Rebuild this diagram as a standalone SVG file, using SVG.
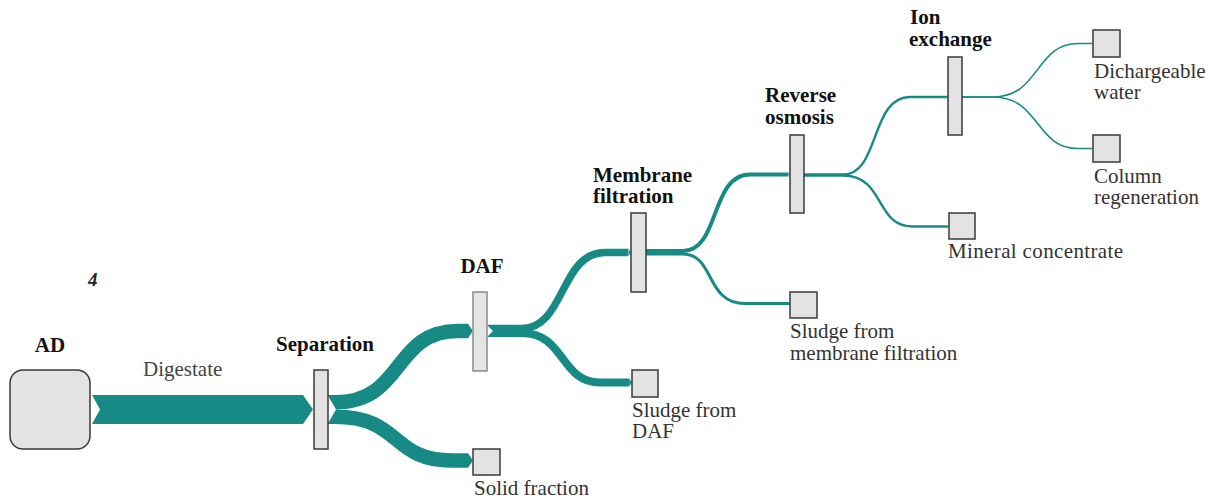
<svg xmlns="http://www.w3.org/2000/svg" width="1220" height="502" viewBox="0 0 1220 502">
<style>
.t{font-family:"Liberation Serif","DejaVu Serif","Times New Roman",serif;font-size:21px;fill:#333}
.b{font-family:"Liberation Serif","DejaVu Serif","Times New Roman",serif;font-size:21px;font-weight:bold;fill:#111}
.box{fill:#e3e3e3;stroke:#3a3a3a;stroke-width:1.5}
.bar{fill:#e3e3e3;stroke:#3a3a3a;stroke-width:1.5}
.flow{fill:none;stroke:#178a85;stroke-linecap:butt}
.notch{fill:#fff}
</style>
<defs>
<marker id="tip" viewBox="0 0 3.4 10" markerWidth="0.34" markerHeight="1" refX="0" refY="5" orient="auto">
<path d="M0,0 L3.4,5 L0,10 Z" fill="#178a85"/>
</marker>
<marker id="tip2" viewBox="0 0 3.4 10" markerWidth="0.34" markerHeight="1" refX="0" refY="5" orient="auto">
<path d="M0,0 L3.4,5 L0,10 Z" fill="#2a918c"/>
</marker>
<marker id="tip3" viewBox="0 0 3.4 10" markerWidth="0.34" markerHeight="1" refX="0" refY="5" orient="auto">
<path d="M0,0 L3.4,5 L0,10 Z" fill="#8ec7c4"/>
</marker>
</defs>
<rect width="1220" height="502" fill="#fff"/>
<g id="connectors">
<polygon points="92,395 303,395 313,409.5 303,424 92,424 100,409.5" fill="#178a85"/>
<path class="flow" stroke-width="14.5" marker-end="url(#tip)" d="M328,402.25 L335,402.25 C405,402.25 392,331 458,331 L468,331"/>
<path class="flow" stroke-width="14.5" marker-end="url(#tip)" d="M328,416.75 L335,416.75 C402,416.75 390,460.5 452,460.5 L468,460.5"/>
<polygon class="notch" points="327,394 336,409.5 327,425"/>
<path class="flow" stroke-width="7.5" marker-end="url(#tip)" d="M487,328.5 L522,328.5 C565,328.5 560,252.5 605,252.5 L628.5,252.5"/>
<path class="flow" stroke-width="8" marker-end="url(#tip)" d="M487,333 L522,333 C565,333 560,382.5 600,382.5 L629.3,382.5"/>
<polygon class="notch" points="486.5,324.5 493,331 486.5,337.5"/>
<path class="flow" stroke-width="4" marker-end="url(#tip)" d="M646,251 L683,251 C720,251 710,174.5 750,174.5 L788.6,174.5"/>
<path class="flow" stroke-width="3" marker-end="url(#tip)" d="M646,254 L683,254 C715,254 705,303.5 745,303.5 L789,303.5"/>
<path class="flow" stroke="#2a918c" stroke-width="2.4" marker-end="url(#tip2)" d="M803,174.5 L843,174.5 C880,174.5 870,97 910,97 L947.2,97"/>
<path class="flow" stroke="#2a918c" stroke-width="2.4" marker-end="url(#tip2)" d="M803,175.5 L843,175.5 C885,175.5 875,226.5 912,226.5 L948.2,226.5"/>
<path class="flow" stroke="#8ec7c4" stroke-width="1.6" marker-end="url(#tip3)" d="M962,97 L993,97 C1040,97 1035,43.5 1078,43.5 L1092.5,43.5"/>
<path class="flow" stroke="#8ec7c4" stroke-width="1.6" marker-end="url(#tip3)" d="M962,97 L993,97 C1040,97 1035,148.5 1078,148.5 L1092.5,148.5"/>
</g>
<g id="ad">
<rect class="box" x="10" y="370" width="80" height="79" rx="13"/>
<text class="b" x="50" y="352" text-anchor="middle">AD</text>
</g>
<g id="digestate-label">
<text class="t" x="143" y="376" style="fill:#444">Digestate</text>
</g>
<g id="separation">
<rect class="bar" x="314" y="370" width="14" height="79"/>
<text class="b" x="276" y="351">Separation</text>
</g>
<g id="solid-fraction">
<rect class="box" x="473" y="449" width="27" height="26"/>
<text class="t" x="474" y="495">Solid fraction</text>
</g>
<g id="daf">
<rect class="bar" x="473" y="292" width="14" height="79" style="stroke:#8a8a8a"/>
<text class="b" x="482" y="273" text-anchor="middle">DAF</text>
</g>
<g id="sludge-daf">
<rect class="box" x="632" y="370" width="26" height="27"/>
<text class="t" x="632" y="417">Sludge from</text>
<text class="t" x="632" y="438">DAF</text>
</g>
<g id="membrane-filtration">
<rect class="bar" x="631" y="213" width="15" height="79"/>
<text class="b" x="593" y="182">Membrane</text>
<text class="b" x="593" y="203">filtration</text>
</g>
<g id="sludge-mf">
<rect class="box" x="790" y="292" width="27" height="26"/>
<text class="t" x="790" y="338">Sludge from</text>
<text class="t" x="790" y="360">membrane filtration</text>
</g>
<g id="reverse-osmosis">
<rect class="bar" x="790" y="135" width="14" height="78"/>
<text class="b" x="765" y="102">Reverse</text>
<text class="b" x="765" y="124">osmosis</text>
</g>
<g id="mineral-concentrate">
<rect class="box" x="949" y="213" width="26" height="26"/>
<text class="t" x="948" y="258" textLength="175">Mineral concentrate</text>
</g>
<g id="ion-exchange">
<rect class="bar" x="948" y="57" width="14" height="78"/>
<text class="b" x="910" y="24">Ion</text>
<text class="b" x="909" y="46">exchange</text>
</g>
<g id="dischargeable-water">
<rect class="box" x="1093" y="30" width="27" height="27"/>
<text class="t" x="1094" y="78">Dichargeable</text>
<text class="t" x="1094" y="99">water</text>
</g>
<g id="column-regeneration">
<rect class="box" x="1093" y="135" width="27" height="27"/>
<text class="t" x="1094" y="183">Column</text>
<text class="t" x="1094" y="204">regeneration</text>
</g>
<g id="figure-number">
<text x="88" y="286" style="font-family:'Liberation Serif','Times New Roman',serif;font-size:19px;font-weight:bold;font-style:italic;fill:#222">4</text>
</g>
</svg>
